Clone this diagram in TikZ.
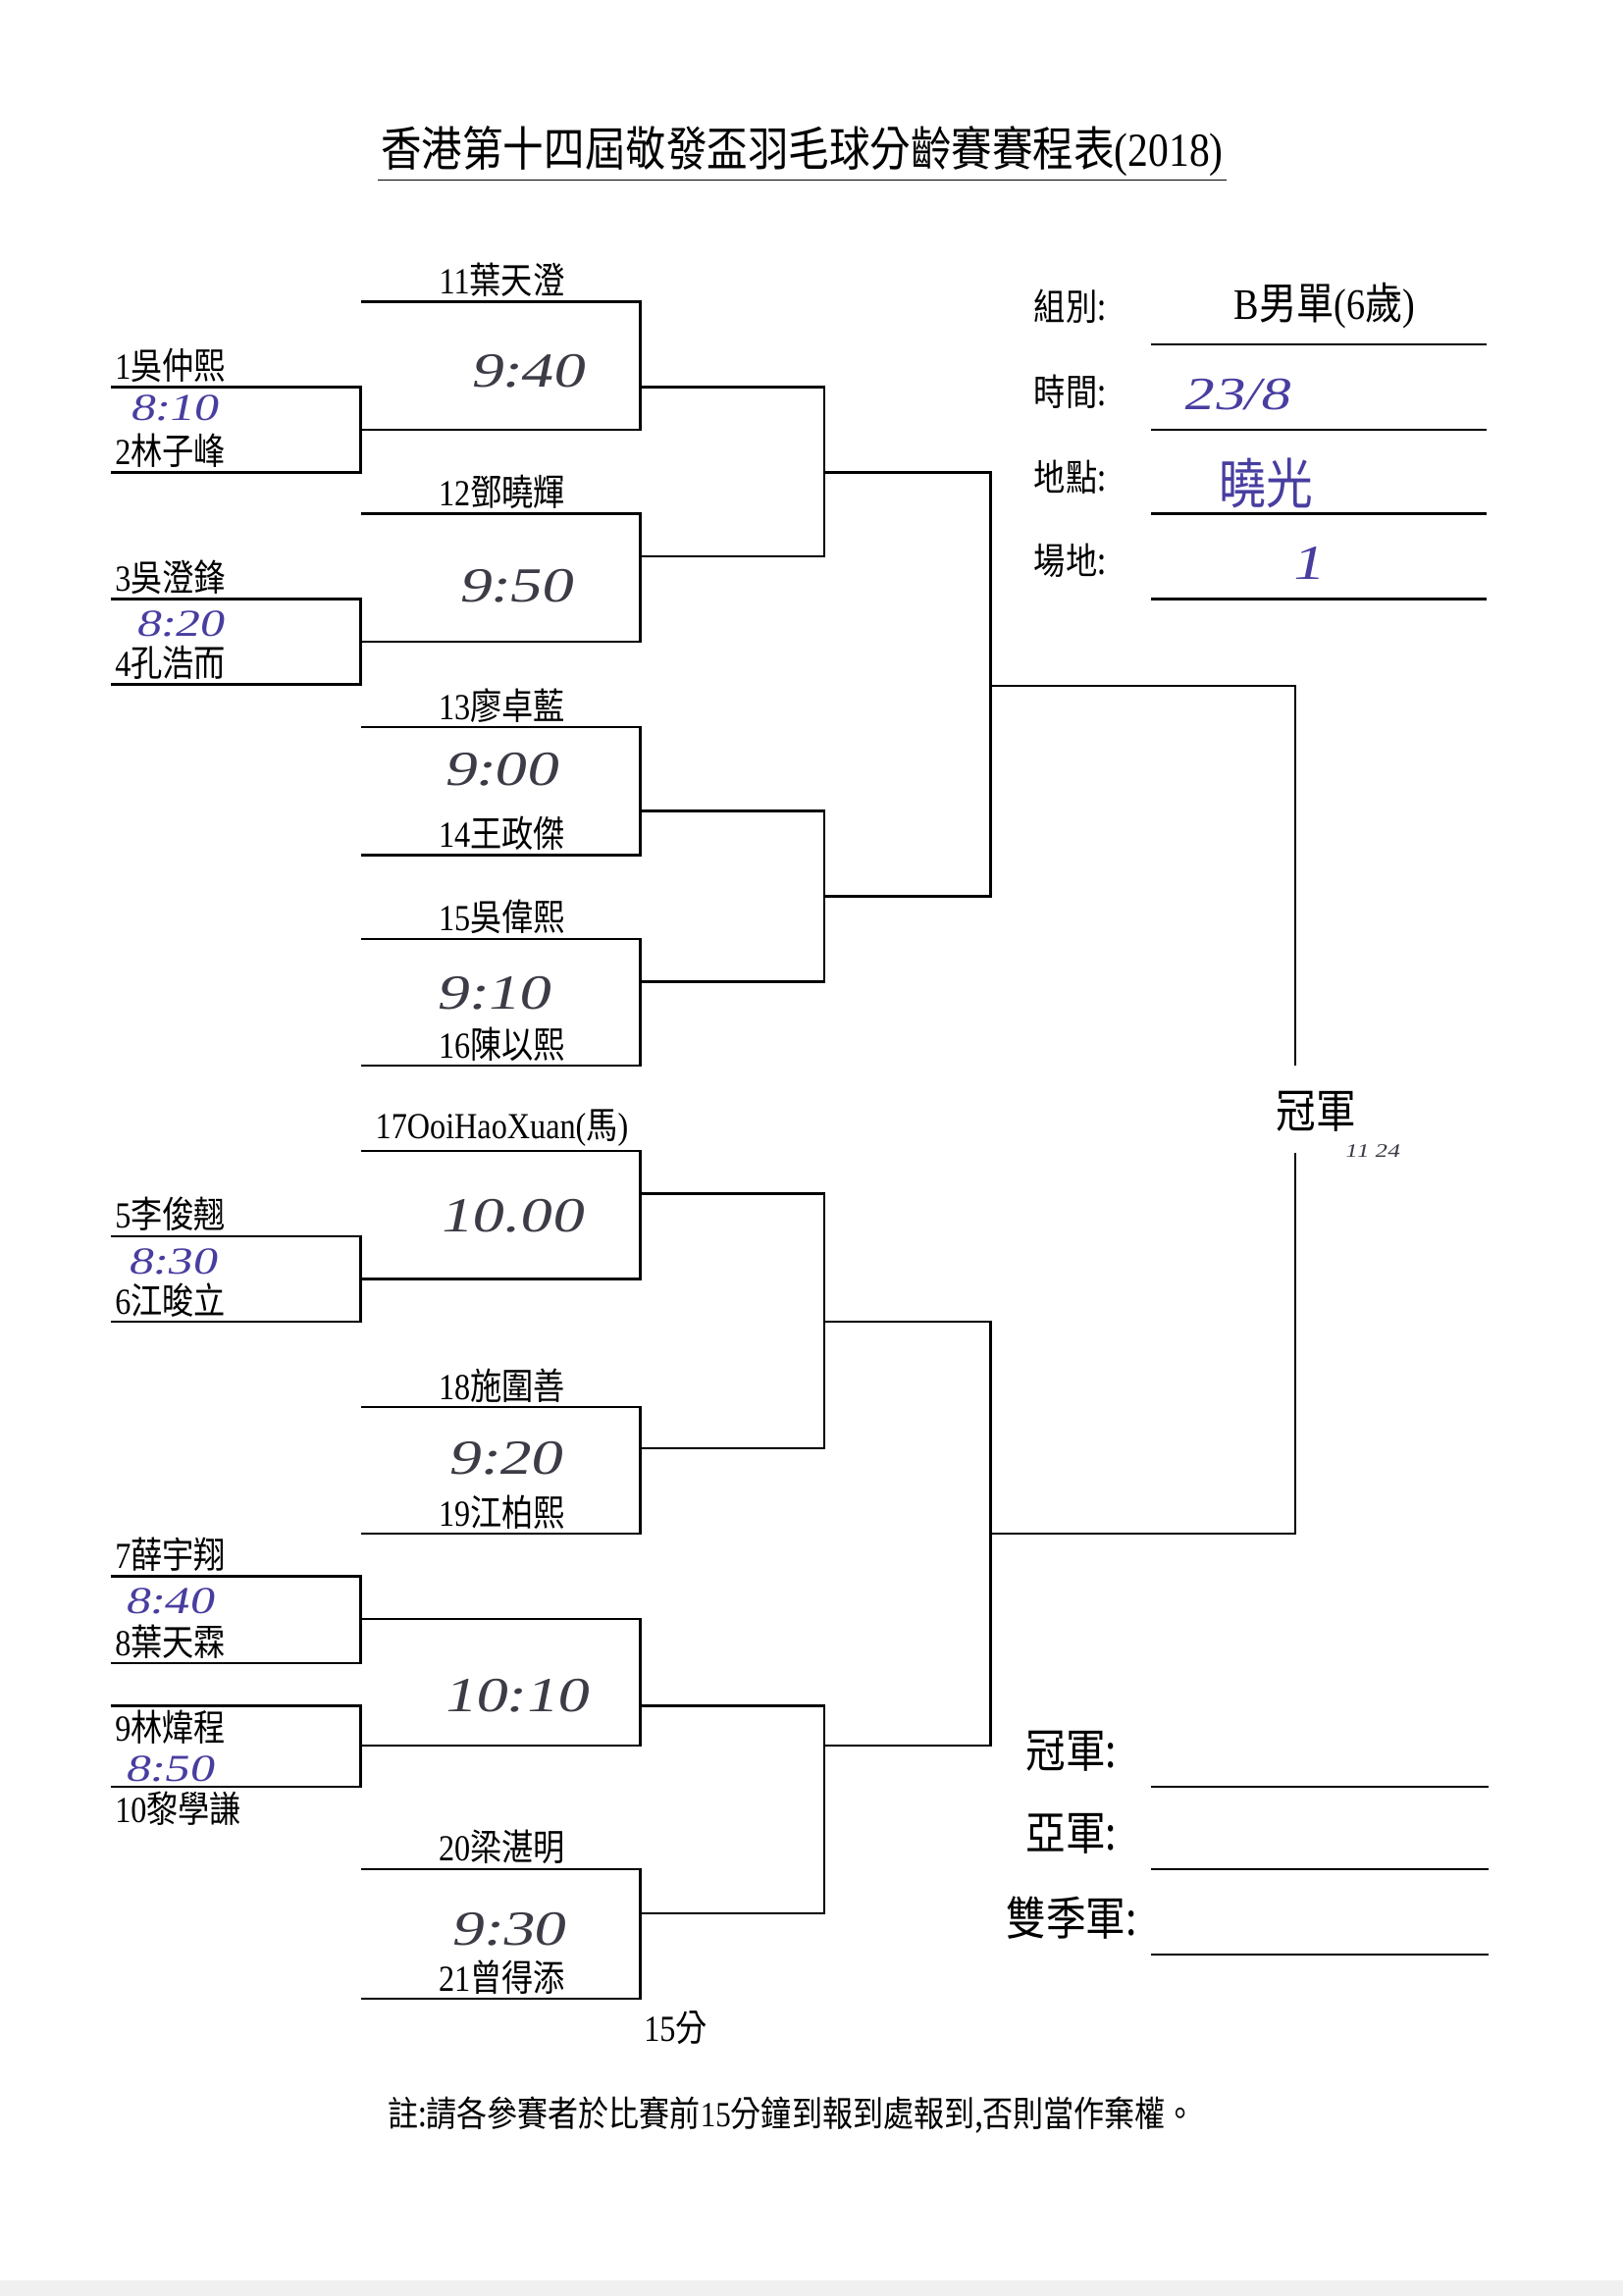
\documentclass[tikz,border=0pt]{standalone}
\usepackage{fontspec}
\setmainfont{Liberation Serif}[FakeStretch=0.86]
\newfontfamily\cjk{Noto Sans CJK TC}[FakeStretch=0.86]
\newfontfamily\hand{Liberation Serif}[FakeStretch=1.3, FakeSlant=0.2]
\definecolor{ink}{RGB}{72,62,160}
\definecolor{pencil}{RGB}{60,60,70}
\newcommand{\nm}[2]{#1{\cjk #2}}

\tikzset{
bline/.style = {line width=1pt},
player/.style = {inner sep=1pt, font=\fontsize{13.5}{14}\selectfont},
clock/.style = {inner sep=0pt, text=pencil, font=\fontsize{18}{18}\selectfont\hand},
pen/.style = {inner sep=0pt, text=ink, font=\fontsize{14}{14}\selectfont\hand},
info/.style = {inner sep=1pt, font=\fontsize{13.5}{14}\selectfont\cjk},
prize/.style = {inner sep=1pt, font=\fontsize{17}{18}\selectfont\cjk},
pics/brk/.style n args = {2}{
	code = {
	\draw[bline] (0,0) -- (#1,0) -- (#1,#2) -- (0,#2);
	}
	}
}

\begin{document}
\begin{tikzpicture}[x=0.019cm,y=-0.019cm]
\useasboundingbox (0,0) rectangle (1102.6,1560);
\fill[gray!12] (0,1549) rectangle (1102.6,1560);

% title
\node[inner sep=1pt, font=\fontsize{17.4}{18}\selectfont] (title) at (545,103) {{\cjk 香港第十四屆敬發盃羽毛球分齡賽賽程表}(2018)};
\draw[line width=0.6pt] (title.south west) -- (title.south east);

% brackets
\foreach \y/\h in {263/58,407/58,840/58,1071/59,1159/55}
	\pic at (75,\y) {brk={170}{\h}};
\foreach \y/\h in {205/87,349/87,494/87,638/86,782/87,956/86,1100/86,1270/88}
	\pic at (245,\y) {brk={190}{\h}};
\foreach \y/\h in {263/115,551/116,811/173,1159/141}
	\pic at (435,\y) {brk={125}{\h}};
\foreach \y/\h in {321/288,898/288}
	\pic at (560,\y) {brk={113}{\h}};

% final, broken round the label
\draw[bline] (673,466) -- (880,466) -- (880,724);
\draw[bline] (880,783) -- (880,1042) -- (673,1042);
\node[prize] (champ) at (894,755) {冠軍};
\node[inner sep=0pt, text=pencil, font=\fontsize{7}{7}\selectfont\hand] (stamp) at (932,782) {11 24};

% players
\foreach \y/\k/\s in {263/1/吳仲熙,321/2/林子峰,407/3/吳澄鋒,465/4/孔浩而,840/5/李俊翹,898/6/江晙立,1071/7/薛宇翔,1130/8/葉天霖}
	\node[player, anchor=south west] (p\k) at (76,\y-1) {\nm{\k}{\s}};
\foreach \y/\k/\s in {1159/9/林煒程,1214/10/黎學謙}
	\node[player, anchor=north west] (p\k) at (76,\y+1) {\nm{\k}{\s}};
\foreach \y/\k/\s in {205/11/葉天澄,349/12/鄧曉輝,494/13/廖卓藍,581/14/王政傑,638/15/吳偉熙,724/16/陳以熙,956/18/施圍善,1042/19/江柏熙,1270/20/梁湛明,1358/21/曾得添}
	\node[player, anchor=south] (p\k) at (341,\y-1) {\nm{\k}{\s}};
\node[player, anchor=south] (p17) at (341,781) {17OoiHaoXuan({\cjk 馬})};

% match times
\foreach \k/\x/\y/\s in {a/358/252/9:40,b/350/398/9:50,c/340/523/9:00,d/335/675/9:10,e/347/826/10.00,f/343/991/9:20,g/350/1152/10:10,h/345/1311/9:30}
	\node[clock] (t\k) at (\x,\y) {\s};
\foreach \k/\x/\y/\s in {a/118/277/8:10,b/122/424/8:20,c/117/857/8:30,d/115/1088/8:40,e/115/1202/8:50}
	\node[pen] (u\k) at (\x,\y) {\s};

% group, date, place, court
\foreach \k/\y/\s in {a/208/組別:,b/266/時間:,c/324/地點:,d/381/場地:}
	\node[info] (f\k) at (727,\y) {\s};
\foreach \y in {234,292,349,407}
	\draw[bline] (782,\y) -- (1010,\y);
\node[inner sep=1pt, font=\fontsize{16}{17}\selectfont] (group) at (900,208) {B{\cjk 男單}(6{\cjk 歲})};
\node[pen, font=\fontsize{17}{17}\selectfont\hand] (date) at (840,268) {23/8};
\node[pen, font=\fontsize{20}{20}\selectfont\cjk] (place) at (860,328) {曉光};
\node[pen, font=\fontsize{18}{18}\selectfont\hand] (court) at (888,383) {1};

% winners
\foreach \k/\y/\s in {a/1190/冠軍:,b/1246/亞軍:,c/1303/雙季軍:}
	\node[prize] (w\k) at (728,\y) {\s};
\foreach \y in {1214,1270,1328}
	\draw[bline] (782,\y) -- (1011,\y);

% notes
\node[player] (gap) at (459,1378) {15{\cjk 分}};
\node[inner sep=1pt, font=\fontsize{13}{14}\selectfont] (note) at (538,1437) {{\cjk 註:請各參賽者於比賽前}15{\cjk 分鐘到報到處報到,否則當作棄權。}};
\end{tikzpicture}
\end{document}
